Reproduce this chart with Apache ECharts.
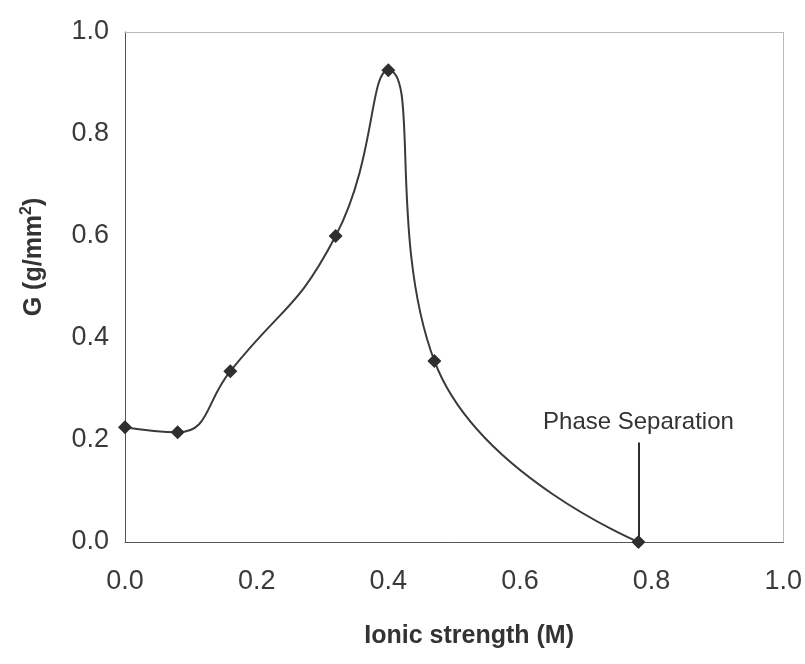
<!DOCTYPE html>
<html>
<head>
<meta charset="utf-8">
<script src="https://cdn.jsdelivr.net/npm/echarts@6/dist/echarts.min.js"></script>
<style>
  html, body { margin: 0; padding: 0; background: #fff; }
  #chart { width: 805px; height: 664px; }
</style>
</head>
<body>
<div id="chart"></div>
<script>
  // data
  const ionicStrength = [0, 0.08, 0.16, 0.32, 0.40, 0.47, 0.78];
  const gValues = [0.225, 0.215, 0.335, 0.60, 0.925, 0.355, 0.0];
  const xTicks = [0, 0.2, 0.4, 0.6, 0.8, 1.0];
  const yTicks = [0, 0.2, 0.4, 0.6, 0.8, 1.0];
  const phaseSep = { x: 0.78, top: 0.195, label: 'Phase Separation' };

  const font = 'Liberation Sans, Arial, sans-serif';
  const points = ionicStrength.map((x, i) => [x, gValues[i]]);

  const chart = echarts.init(document.getElementById('chart'));
  chart.setOption({
    animation: false,
    grid: { left: 125, right: 16, top: 32, bottom: 122 },
    xAxis: [{
      type: 'value', min: 0, max: 1, interval: 0.2,
      axisLine: { show: true, lineStyle: { color: '#555', width: 1 } },
      axisTick: { show: false },
      splitLine: { show: false },
      axisLabel: {
        color: '#3a3a3a', fontSize: 27, fontFamily: font, margin: 26,
        formatter: v => xTicks.includes(+v.toFixed(1)) ? v.toFixed(1) : ''
      },
      name: 'Ionic strength (M)',
      nameLocation: 'middle', nameGap: 82,
      nameTextStyle: { color: '#333', fontSize: 25, fontWeight: 'bold', fontFamily: font, padding: [0, 0, 0, 30] }
    }, {
      type: 'value', min: 0, max: 1, position: 'top',
      axisLine: { show: true, onZero: false, lineStyle: { color: '#aaa', type: 'dotted' } },
      axisTick: { show: false }, axisLabel: { show: false }, splitLine: { show: false }
    }],
    yAxis: [{
      type: 'value', min: 0, max: 1, interval: 0.2,
      axisLine: { show: true, lineStyle: { color: '#555', width: 1 } },
      axisTick: { show: false },
      splitLine: { show: false },
      axisLabel: {
        color: '#3a3a3a', fontSize: 27, fontFamily: font, margin: 16,
        formatter: v => yTicks.includes(+v.toFixed(1)) ? v.toFixed(1) : ''
      },
      name: 'G (g/mm{sup|2})',
      nameLocation: 'middle', nameGap: 76, nameRotate: 90,
      nameTextStyle: {
        color: '#333', fontSize: 25, fontWeight: 'bold', fontFamily: font,
        padding: [0, 0, 0, 60],
        rich: { sup: { fontSize: 16, fontWeight: 'bold', fontFamily: font, color: '#333', verticalAlign: 'top', padding: [0, 0, 14, 0] } }
      }
    }, {
      type: 'value', min: 0, max: 1, position: 'right',
      axisLine: { show: true, onZero: false, lineStyle: { color: '#aaa', type: 'dotted' } },
      axisTick: { show: false }, axisLabel: { show: false }, splitLine: { show: false }
    }],
    series: [{
      type: 'line',
      data: points,
      smooth: 0.5,
      symbol: 'diamond',
      symbolSize: 14,
      lineStyle: { color: '#3a3a3a', width: 2 },
      itemStyle: { color: '#2e2e2e' },
      markLine: {
        silent: true,
        symbol: ['none', 'none'],
        lineStyle: { color: '#2e2e2e', width: 2, type: 'solid' },
        label: {
          show: true, position: 'start', formatter: phaseSep.label,
          color: '#333', fontSize: 24, fontFamily: font, distance: 8
        },
        data: [[{ coord: [phaseSep.x, phaseSep.top] }, { coord: [phaseSep.x, 0] }]]
      }
    }]
  });
</script>
</body>
</html>
